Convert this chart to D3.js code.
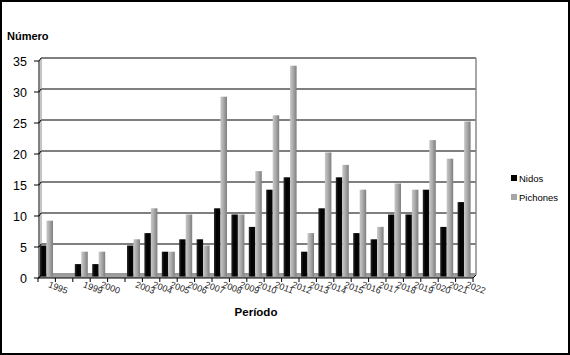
<!DOCTYPE html>
<html>
<head>
<meta charset="utf-8">
<script src="https://cdn.jsdelivr.net/npm/d3@7"></script>
<style>
  body { margin: 0; background: #fff; }
  svg { display: block; font-family: "Liberation Sans", Arial, sans-serif; }
</style>
</head>
<body>
<div id="chart"></div>
<script>
// data
const categories = ["1995", "", "1999", "2000", "", "2003", "2004", "2005", "2006", "2007",
                    "2008", "2009", "2010", "2011", "2012", "2013", "2014", "2015", "2016",
                    "2017", "2018", "2019", "2020", "2021", "2022"];
const nidos    = [5, 0, 2, 2, 0, 5, 7, 4, 6, 6, 11, 10, 8, 14, 16, 4, 11, 16, 7, 6, 10, 10, 14, 8, 12];
const pichones = [9, 0, 4, 4, 0, 6, 11, 4, 10, 5, 29, 10, 17, 26, 34, 7, 20, 18, 14, 8, 15, 14, 22, 19, 25];
const seriesNames = ["Nidos", "Pichones"];
const yTicks = [0, 5, 10, 15, 20, 25, 30, 35];

const width = 570, height = 355;
const margin = {top: 61, right: 94, bottom: 77, left: 38};
const depth = 3; // 3d offset of the back wall

const svg = d3.select("#chart").append("svg")
    .attr("width", width).attr("height", height)
    .attr("viewBox", [0, 0, width, height]);

const defs = svg.append("defs");
const gGray = defs.append("linearGradient").attr("id", "gGray");
gGray.append("stop").attr("offset", "0%").attr("stop-color", "#c8c8c8");
gGray.append("stop").attr("offset", "45%").attr("stop-color", "#ababab");
gGray.append("stop").attr("offset", "100%").attr("stop-color", "#7e7e7e");
const gBlack = defs.append("linearGradient").attr("id", "gBlack");
gBlack.append("stop").attr("offset", "0%").attr("stop-color", "#2a2a2a");
gBlack.append("stop").attr("offset", "40%").attr("stop-color", "#000");
gBlack.append("stop").attr("offset", "100%").attr("stop-color", "#0a0a0a");

// frame
svg.append("rect")
    .attr("x", 1).attr("y", 1).attr("width", width - 2).attr("height", height - 2)
    .attr("fill", "none").attr("stroke", "#000").attr("stroke-width", 2);

const idx = d3.range(categories.length);

let x = d3.scaleBand()
    .domain(idx)
    .range([margin.left, width - margin.right - depth]);

let x1 = d3.scaleBand()
    .domain(seriesNames)
    .range([2, x.bandwidth() - 2.4]);

let y = d3.scaleLinear()  // front plane
    .domain([0, 35])
    .range([height - margin.bottom, margin.top]);

const left = margin.left, right = width - margin.right - depth;
const y0 = y(0);

// back wall gridlines
svg.append("g")
  .selectAll("line")
  .data(yTicks.slice(1))
  .join("line")
    .attr("x1", left + depth).attr("x2", right + depth)
    .attr("y1", d => y(d) - depth).attr("y2", d => y(d) - depth)
    .attr("stroke", "#000").attr("stroke-width", 1.1);

// wall edges
svg.append("line")
    .attr("x1", left + depth).attr("x2", left + depth)
    .attr("y1", y(35) - depth).attr("y2", y0 - depth)
    .attr("stroke", "#8a8a8a").attr("stroke-width", 1);
svg.append("line")
    .attr("x1", right + depth).attr("x2", right + depth)
    .attr("y1", y(35) - depth).attr("y2", y0 - depth)
    .attr("stroke", "#8a8a8a").attr("stroke-width", 1.5);

// floor
svg.append("polygon")
    .attr("points", [[left, y0], [left + depth, y0 - depth], [right + depth, y0 - depth], [right, y0]].join(" "))
    .attr("fill", "#a0a0a0");
svg.append("rect")
    .attr("x", left + depth).attr("y", y0 - depth - 2)
    .attr("width", right - left).attr("height", 2)
    .attr("fill", "#9a9a9a");

// bars
const rows = idx.map(i => ({i: i, Nidos: nidos[i], Pichones: pichones[i]}));

let bar = svg.selectAll(".bar")
    .data(rows)
    .join("g")
    .attr("class", "bar")
    .attr("transform", d => `translate(${x(d.i)},0)`);

bar.selectAll("rect")
    .data(d => seriesNames.map(k => ({key: k, value: d[k]})).filter(s => s.value > 0))
    .join("rect")
    .attr("x", s => x1(s.key))
    .attr("width", x1.bandwidth())
    .attr("y", s => y(s.value) - 1.5)
    .attr("height", s => y0 - y(s.value))
    .attr("fill", s => s.key === "Nidos" ? "url(#gBlack)" : "url(#gGray)");

// y axis (front)
svg.append("line")
    .attr("x1", left + 1).attr("x2", left + 1)
    .attr("y1", y(35)).attr("y2", y0)
    .attr("stroke", "#000").attr("stroke-width", 1);
const yAx = svg.append("g");
yAx.selectAll("line.tk")
  .data(yTicks)
  .join("line")
    .attr("class", "tk")
    .attr("x1", left - 4).attr("x2", left + 1)
    .attr("y1", d => y(d)).attr("y2", d => y(d))
    .attr("stroke", "#000");
yAx.selectAll("line.dg")
  .data(yTicks)
  .join("line")
    .attr("class", "dg")
    .attr("x1", left + 1).attr("x2", left + depth)
    .attr("y1", d => y(d)).attr("y2", d => y(d) - depth)
    .attr("stroke", "#000");
yAx.selectAll("text")
  .data(yTicks)
  .join("text")
    .attr("x", left - 11)
    .attr("y", d => y(d) + 4.5)
    .attr("text-anchor", "end")
    .style("font-size", "12.5px")
    .text(d => d);

// x axis (front)
svg.append("line")
    .attr("x1", left).attr("x2", right)
    .attr("y1", y0).attr("y2", y0)
    .attr("stroke", "#000");
svg.append("line")
    .attr("x1", right).attr("x2", right + depth)
    .attr("y1", y0).attr("y2", y0 - depth)
    .attr("stroke", "#000");
svg.append("g")
  .selectAll("line")
  .data(idx.concat([categories.length]))
  .join("line")
    .attr("x1", i => left + i * x.step()).attr("x2", i => left + i * x.step())
    .attr("y1", y0).attr("y2", y0 + 4)
    .attr("stroke", "#000");

svg.append("g")
  .selectAll("text")
  .data(idx.filter(i => categories[i] !== ""))
  .join("text")
    .attr("transform", i => `translate(${x(i) + x.bandwidth() / 2 + 1},${y0 + 9}) rotate(20)`)
    .style("font-size", "9px")
    .attr("fill", "#222")
    .text(i => categories[i]);

// axis titles
svg.append("text")
    .attr("x", 7).attr("y", 40)
    .style("font-size", "11px").style("font-weight", "bold")
    .text("Número");
svg.append("text")
    .attr("x", 256).attr("y", 316)
    .attr("text-anchor", "middle")
    .style("font-size", "11.5px").style("font-weight", "bold")
    .text("Período");

// legend
const legend = svg.append("g").attr("transform", "translate(511,175)");
const lg = legend.selectAll("g")
  .data(seriesNames)
  .join("g")
    .attr("transform", (d, i) => `translate(0,${i * 19})`);
lg.append("rect")
    .attr("width", 6).attr("height", 6)
    .attr("fill", d => d === "Nidos" ? "#000" : "#a6a6a6");
lg.append("text")
    .attr("x", 8).attr("y", 7)
    .style("font-size", "9.5px")
    .text(d => d);
</script>
</body>
</html>
